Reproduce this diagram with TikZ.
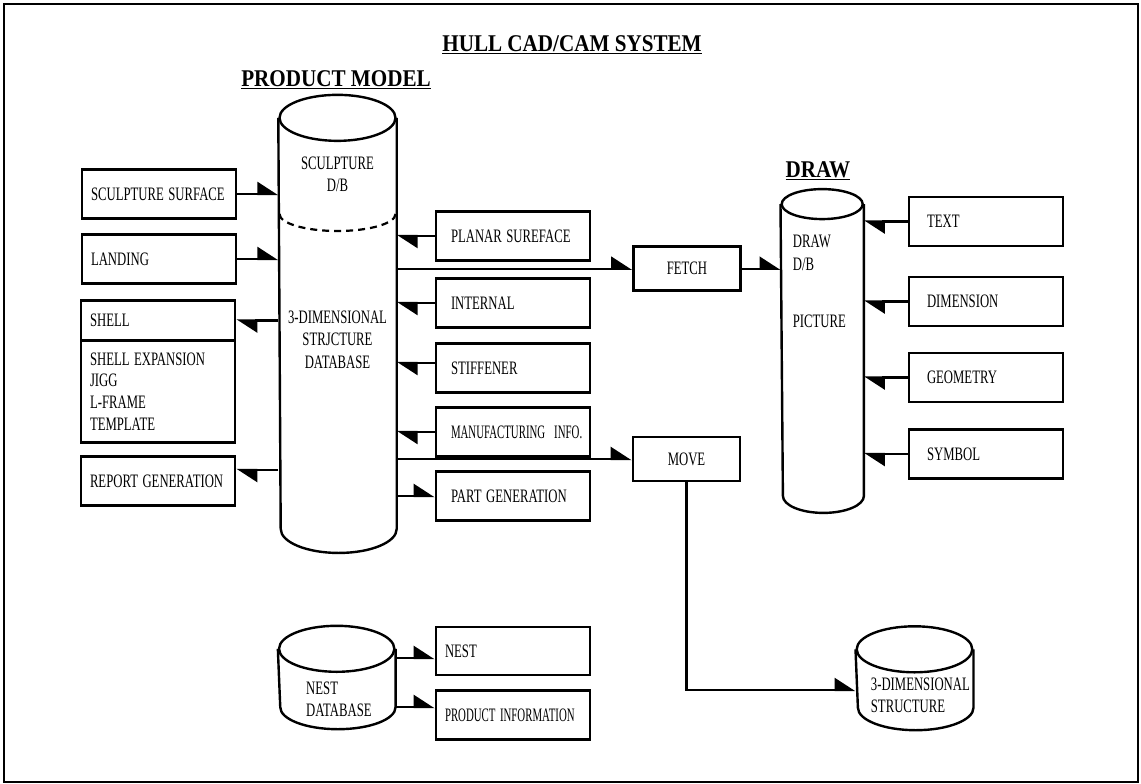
\documentclass[tikz,border=0pt]{standalone}
\usepackage{fontspec}
\setmainfont{Liberation Serif}
\newfontfamily\boxfont{Liberation Serif}[FakeStretch=0.67]
\newfontfamily\narrowfont{Liberation Serif}[FakeStretch=0.57]
\newfontfamily\headfont{Liberation Serif}[FakeStretch=0.88]
\usetikzlibrary{arrows.meta}
\newcommand{\boxtxt}{\boxfont\fontsize{19}{21.7}\selectfont}
\newcommand{\dbtxt}{\boxfont\fontsize{19}{22.5}\selectfont}
\newcommand{\headtxt}{\headfont\bfseries\fontsize{24}{28}\selectfont}
\tikzset{
  lbox/.style={draw,line width=2.8pt,minimum width=154pt,minimum height=49pt,
               text width=136pt,inner xsep=9pt,align=flush left,font=\boxtxt,
               execute at begin node={\hyphenpenalty=10000\spaceskip=4.5pt\relax}},
  mbox/.style={lbox,text width=124pt,inner xsep=15pt},
  rbox/.style={lbox,text width=118pt,inner xsep=18pt},
  narrow/.style={font=\narrowfont\fontsize{19}{21.7}\selectfont},
  opbox/.style={draw,line width=2.8pt,minimum width=107pt,minimum height=44pt,
               font=\boxtxt},
  dbbody/.style={inner sep=0pt,outer sep=1.2pt},
  dbline/.style={line width=2.4pt},
  dbl/.style={inner sep=0pt,font=\dbtxt},
  head/.style={inner sep=0pt,font=\headtxt,anchor=base},
  arr/.style={line width=2.4pt,-{Triangle[left,length=19pt,width=24pt]}},
}
\begin{document}
\begin{tikzpicture}[x=1pt,y=-1pt]
  \useasboundingbox (0,0) rectangle (1141,784);
  \draw[line width=2pt] (4,4) rectangle (1138,782);
  % titles
  \node[head] (hull) at (572,52) {\underline{HULL CAD/CAM SYSTEM}};
  \node[head] (pmodel) at (336,87) {\underline{PRODUCT MODEL}};
  \node[head] (drawttl) at (818,177) {\underline{DRAW}};
  % product model database
  \node[dbbody,minimum width=116pt,minimum height=408.7pt] (pm) at (337.5,323.4) {};
  \draw[dbline] (pm.north east) -- (pm.south east)
    arc[start angle=0,end angle=-180,x radius=58pt,y radius=24pt] -- (pm.north west);
  \draw[dbline] (pm.north) ellipse[x radius=58pt,y radius=23pt];
  \draw[line width=2.2pt,dash pattern=on 7pt off 5pt] (279.5,214)
    arc[start angle=180,end angle=360,x radius=58pt,y radius=17pt];
  \node[dbl,align=center,anchor=base] (pmsc) at (337.5,191.5) {SCULPTURE\\D/B};
  \node[dbl,align=center,anchor=base] (pmsd) at (337.5,368.3)
    {3-DIMENSIONAL\\STRJCTURE\\DATABASE};
  % draw database
  \node[dbbody,minimum width=81pt,minimum height=289.4pt] (dwdb) at (822.2,350) {};
  \draw[dbline] (dwdb.north east) -- (dwdb.south east)
    arc[start angle=0,end angle=-180,x radius=40.5pt,y radius=17pt] -- (dwdb.north west);
  \draw[dbline] (dwdb.north) ellipse[x radius=40.5pt,y radius=15pt];
  \node[dbl,align=left,anchor=base west] (dwtxt) at (792.7,270) {DRAW\\D/B};
  \node[dbl,anchor=base west] (dwpic) at (792.7,327.3) {PICTURE};
  % nest database
  \node[dbbody,minimum width=115.3pt,minimum height=56pt] (nestdb) at (336.7,678) {};
  \draw[dbline] (nestdb.north east) -- (nestdb.south east)
    arc[start angle=0,end angle=-180,x radius=57.65pt,y radius=22pt] -- (nestdb.north west);
  \draw[dbline] (nestdb.north) ellipse[x radius=57.65pt,y radius=23pt];
  \node[dbl,align=left,anchor=base west] (nesttxt) at (306,716.7) {NEST\\DATABASE};
  % 3-dimensional structure
  \node[dbbody,minimum width=115.6pt,minimum height=56pt] (tdsdb) at (914.5,678.5) {};
  \draw[dbline] (tdsdb.north east) -- (tdsdb.south east)
    arc[start angle=0,end angle=-180,x radius=57.8pt,y radius=22.5pt] -- (tdsdb.north west);
  \draw[dbline] (tdsdb.north) ellipse[x radius=57.8pt,y radius=23pt];
  \node[dbl,align=left,anchor=base west] (tdstxt) at (870.7,712.7)
    {3-DIMENSIONAL\\STRUCTURE};
  % left column
  \node[lbox] (ss) at (159,194) {SCULPTURE~SURFACE};
  \node[lbox] (land) at (159,259) {LANDING};
  \node[lbox,minimum height=40pt] (shell) at (158,320.5) {SHELL};
  \node[lbox,minimum height=102pt] (shexp) at (158,391.5)
    {SHELL~EXPANSION\\JIGG\\L-FRAME\\TEMPLATE};
  \node[lbox] (rep) at (158,481) {REPORT~GENERATION};
  % middle column
  \node[mbox] (plan) at (513,236) {PLANAR~SUREFACE};
  \node[mbox] (intl) at (513,303) {INTERNAL};
  \node[mbox] (stif) at (513,368) {STIFFENER};
  \node[mbox,narrow] (mfg) at (513,432) {MANUFACTURING~~INFO.};
  \node[mbox] (pgen) at (513,496) {PART~GENERATION};
  \node[opbox] (fetch) at (687,268.7) {FETCH};
  \node[opbox] (move) at (686.5,459) {MOVE};
  \node[lbox,minimum height=48pt] (nest) at (513,651) {NEST};
  \node[lbox,narrow] (pinf) at (513,715) {PRODUCT~INFORMATION};
  % draw column
  \node[rbox] (txt) at (986,221.5) {TEXT};
  \node[rbox] (dimn) at (986,301.5) {DIMENSION};
  \node[rbox] (geom) at (986,377.5) {GEOMETRY};
  \node[rbox] (symb) at (986,454) {SYMBOL};
  % connectors
  \draw[arr] (ss.east) -- (ss.east -| pm.west);
  \draw[arr] (land.east) -- (land.east -| pm.west);
  \draw[arr] (shell.east -| pm.west) -- (shell.east);
  \coordinate (repin) at ([yshift=11pt]rep.east);
  \draw[arr] (repin -| pm.west) -- (repin);
  \draw[arr] (plan.west) -- (plan.west -| pm.east);
  \draw[arr] (intl.west) -- (intl.west -| pm.east);
  \coordinate (stifout) at ([yshift=5pt]stif.west);
  \draw[arr] (stifout) -- (stifout -| pm.east);
  \draw[arr] (mfg.west) -- (mfg.west -| pm.east);
  \draw[arr] (pgen.west -| pm.east) -- (pgen.west);
  \draw[arr] (fetch.west -| pm.east) -- (fetch.west);
  \draw[arr] (fetch.east) -- (fetch.east -| dwdb.west);
  \draw[arr] (move.west -| pm.east) -- (move.west);
  \coordinate (tdsin) at ([yshift=-11.5pt]tdsdb.west);
  \draw[arr] (move.south) |- (tdsin);
  \draw[arr] (txt.west) -- (txt.west -| dwdb.east);
  \draw[arr] (dimn.west) -- (dimn.west -| dwdb.east);
  \draw[arr] (geom.west) -- (geom.west -| dwdb.east);
  \draw[arr] (symb.west) -- (symb.west -| dwdb.east);
  \coordinate (nestin) at ([yshift=-7pt]nest.west);
  \draw[arr] (nestin -| nestdb.east) -- (nestin);
  \coordinate (pinfin) at ([yshift=8pt]pinf.west);
  \draw[arr] (pinfin -| nestdb.east) -- (pinfin);
\end{tikzpicture}
\end{document}
